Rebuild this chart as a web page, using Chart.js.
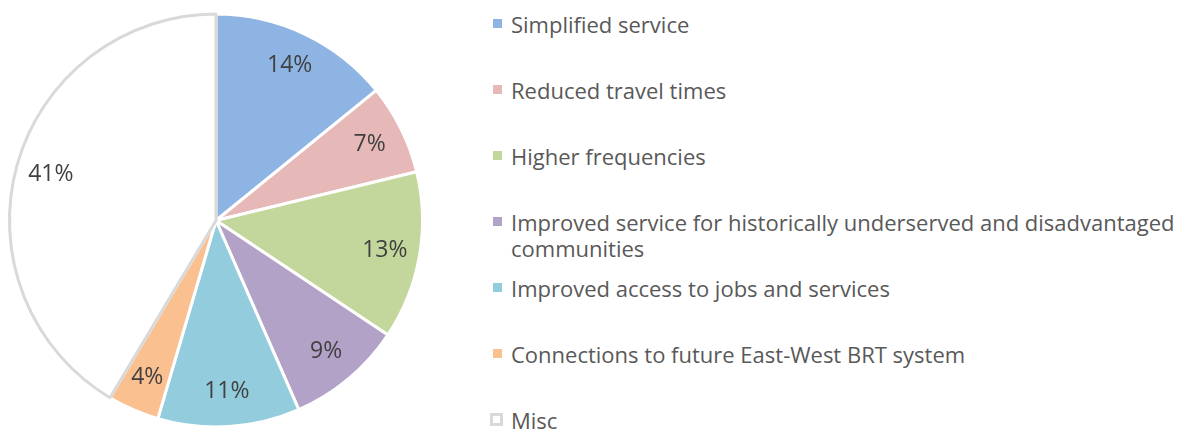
<!DOCTYPE html>
<html>
<head>
<meta charset="utf-8">
<script src="https://cdn.jsdelivr.net/npm/chart.js@4/dist/chart.umd.min.js"></script>
<style>
  body { margin: 0; background: #fff; }
  #wrap { position: relative; width: 1182px; height: 429px; }
  #box { position: absolute; left: 0; top: 0; width: 432px; height: 429px; }
  #legend { position: absolute; left: 488px; top: 0; width: 694px; }
  .item { position: absolute; left: 0; font-family: "Open Sans", sans-serif; font-size: 22px;
          color: #595959; line-height: 26px; padding-left: 23px; white-space: normal; width: 670px; }
  .mark { position: absolute; left: 5px; top: 8px; width: 9px; height: 9px; box-sizing: border-box; }
</style>
</head>
<body>
<div id="wrap">
  <div id="box"><canvas id="pie"></canvas></div>
  <div id="legend"></div>
</div>
<script>
var labels = [
  "Simplified service",
  "Reduced travel times",
  "Higher frequencies",
  "Improved service for historically underserved and disadvantaged communities",
  "Improved access to jobs and services",
  "Connections to future East-West BRT system",
  "Misc"
];
var values = [14, 7, 13, 9, 11, 4, 41];
var fills = ["#8eb4e3", "#e6b9b8", "#c3d69b", "#b3a2c7", "#93cddd", "#fac090", "#ffffff"];
var edges = ["#ffffff", "#ffffff", "#ffffff", "#ffffff", "#ffffff", "#ffffff", "#d9d9d9"];

var pctLabels = {
  id: "pctLabels",
  afterDatasetsDraw: function (chart) {
    var ctx = chart.ctx;
    var meta = chart.getDatasetMeta(0);
    ctx.save();
    ctx.font = "23px 'Open Sans', sans-serif";
    ctx.fillStyle = "#404040";
    ctx.textAlign = "center";
    ctx.textBaseline = "middle";
    meta.data.forEach(function (arc, i) {
      var mid = (arc.startAngle + arc.endAngle) / 2;
      var r = arc.outerRadius * 0.83;
      ctx.fillText(values[i] + "%", arc.x + Math.cos(mid) * r, arc.y + Math.sin(mid) * r);
    });
    ctx.restore();
  }
};

var pie = new Chart(document.getElementById("pie"), {
  type: "pie",
  data: {
    labels: labels,
    datasets: [{
      data: values,
      backgroundColor: fills,
      borderColor: edges,
      borderWidth: 3
    }]
  },
  options: {
    responsive: true,
    maintainAspectRatio: false,
    animation: false,
    layout: { padding: { left: 8, top: 12, bottom: 0, right: 8 } },
    plugins: { legend: { display: false }, tooltip: { enabled: false } }
  },
  plugins: [pctLabels]
});

// legend built from the chart's own labels
var legend = document.getElementById("legend");
var items = Chart.overrides.pie.plugins.legend.labels.generateLabels(pie);
items.forEach(function (it, i) {
  var div = document.createElement("div");
  div.className = "item";
  div.style.top = (24 + 66 * i - 13) + "px";
  var m = document.createElement("span");
  m.className = "mark";
  if (edges[i] !== "#ffffff") {
    m.style.border = "3px solid " + edges[i];
    m.style.width = "13px";
    m.style.height = "13px";
    m.style.left = "2px";
    m.style.top = "6px";
  } else {
    m.style.background = fills[i];
  }
  div.appendChild(m);
  div.appendChild(document.createTextNode(it.text));
  legend.appendChild(div);
});
</script>
</body>
</html>
